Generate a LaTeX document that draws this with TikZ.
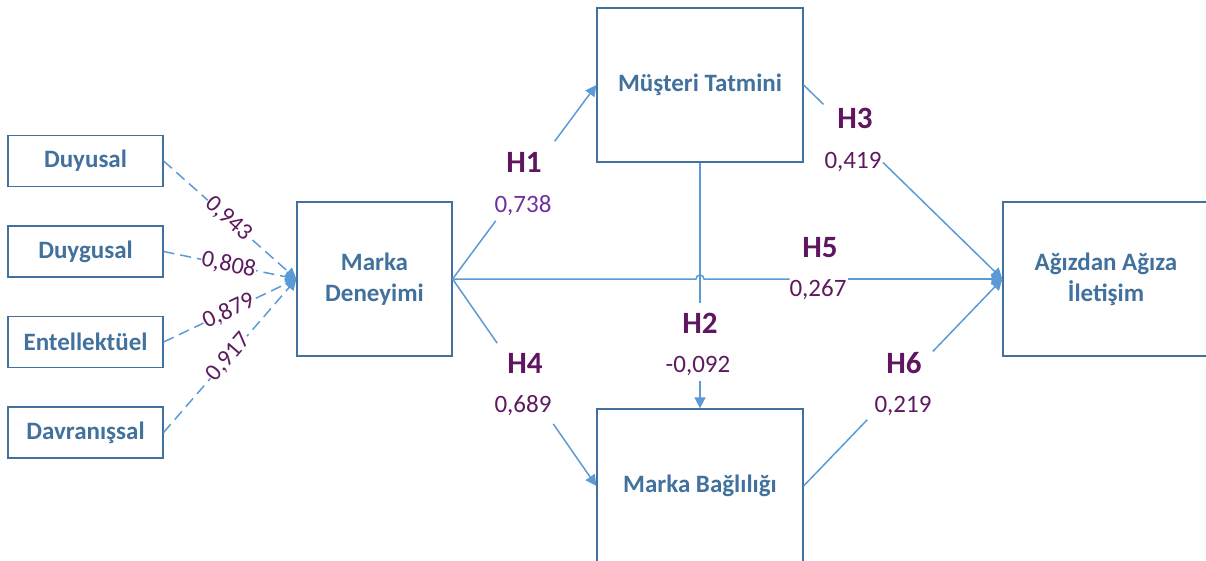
\documentclass[tikz,border=0pt]{standalone}
\usepackage{fontspec}
\setmainfont{Carlito}
\usetikzlibrary{arrows.meta,calc}
\definecolor{boxc}{HTML}{41719C}
\definecolor{linec}{HTML}{5B9BD5}
\definecolor{hpur}{HTML}{5E1660}
\definecolor{npur}{HTML}{5E1A5E}
\definecolor{lpur}{HTML}{7030A0}
\begin{document}
\begin{tikzpicture}[x=1pt,y=-1pt,
 box/.style={draw=boxc, line width=1.2pt, text=boxc, font=\fontsize{25}{31}\selectfont\bfseries, align=center, inner sep=0pt},
 smallbox/.style={box, minimum width=155pt, minimum height=51pt},
 bigbox/.style={box, minimum width=206pt, minimum height=154pt},
 conn/.style={draw=linec, line width=1.5pt},
 arr/.style={conn, -{Triangle[length=11pt,width=11pt]}},
 dsh/.style={arr, dash pattern=on 11pt off 6pt},
 hl/.style={text=hpur, font=\fontsize{31}{36}\selectfont\bfseries, inner sep=0pt},
 nl/.style={text=npur, font=\fontsize{25}{30}\selectfont, inner sep=0pt},
 ld/.style={text=npur, font=\fontsize{24}{28}\selectfont, fill=white, inner sep=0.5pt, sloped, pos=0.49}
]
\useasboundingbox (0,0) rectangle (1206,561);

% boxes
\node[smallbox] (dy) at (85.5,161) {Duyusal};
\node[smallbox] (dg) at (85.5,251.5) {Duygusal};
\node[smallbox] (en) at (85.5,342) {Entellektüel};
\node[smallbox] (dv) at (85.5,432.5) {Davranışsal};
\node[box, minimum width=155pt, minimum height=154pt] (md) at (374.5,279) {\raisebox{-2pt}{Marka}\\\raisebox{-2pt}{Deneyimi}};
\node[bigbox] (mt) at (700,85) {Müşteri Tatmini};
\node[bigbox] (mb) at (700,486) {Marka Bağlılığı};
\node[bigbox] (ai) at (1106,279) {Ağızdan Ağıza\\İletişim};

% dashed indicator arrows
\draw[dsh] (dy.east) -- node[ld]{0,943} (md.west);
\draw[dsh] (dg.east) -- node[ld]{0,808} (md.west);
\draw[dsh] (en.east) -- node[ld]{0,879} (md.west);
\draw[dsh] (dv.east) -- node[ld]{0,917} (md.west);

% H1
\draw[conn] (md.east) -- ($(md.east)!0.30!(mt.west)$);
\draw[arr] ($(md.east)!0.71!(mt.west)$) -- (mt.west);
% H4
\draw[conn] (md.east) -- ($(md.east)!0.31!(mb.west)$);
\draw[arr] ($(md.east)!0.70!(mb.west)$) -- (mb.west);
% H3
\draw[conn] (mt.east) -- ($(mt.east)!0.10!(ai.west)$);
\draw[arr] ($(mt.east)!0.40!(ai.west)$) -- (ai.west);
% H6
\draw[conn] (mb.east) -- ($(mb.east)!0.32!(ai.west)$);
\draw[arr] ($(mb.east)!0.65!(ai.west)$) -- (ai.west);
% H2
\draw[conn] (mt.south) -- ($(mt.south)!0.57!(mb.north)$);
\draw[arr] ($(mt.south)!0.89!(mb.north)$) -- (mb.north);
% H5 with hop
\coordinate (hop) at (mt.south |- md.east);
\draw[conn] (md.east) -- ([xshift=-4pt]hop) arc[start angle=180,end angle=0,radius=4pt] -- ($(md.east)!0.613!(ai.west)$);
\draw[arr] ($(md.east)!0.719!(ai.west)$) -- (ai.west);

% labels
\node[hl] (h1) at (524,162) {H1};
\node[nl, text=lpur] (v1) at (523,206) {0,738};
\node[hl] (h4) at (525,363) {H4};
\node[nl] (v4) at (523,406) {0,689};
\node[hl] (h2) at (700,323) {H2};
\node[nl] (v2) at (698,366) {-0,092};
\node[hl] (h3) at (855,118) {H3};
\node[nl] (v3) at (853,162) {0,419};
\node[hl] (h5) at (820,248) {H5};
\node[nl] (v5) at (818,290) {0,267};
\node[hl] (h6) at (904,363) {H6};
\node[nl] (v6) at (903,406) {0,219};
\end{tikzpicture}
\end{document}
